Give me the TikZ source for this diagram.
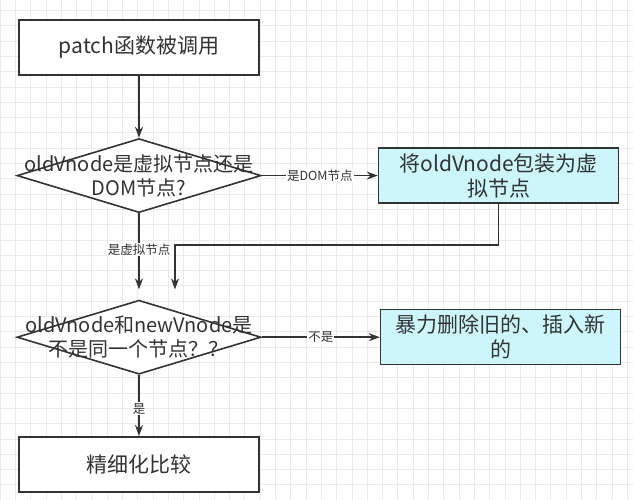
\documentclass[tikz,border=0pt]{standalone}
\usepackage{fontspec}
\setmainfont{Noto Sans CJK SC}
\usetikzlibrary{positioning,arrows.meta,shapes.geometric,calc}
\definecolor{ink}{HTML}{333333}
\definecolor{wrapfill}{RGB}{204,246,250}
\definecolor{gridgray}{RGB}{234,234,234}

\begin{document}
\begin{tikzpicture}[
  x=1pt, y=-1pt,
  font=\fontsize{20}{24}\selectfont,
  box/.style={draw=ink, line width=1.6pt, align=center, minimum width=240pt, minimum height=55pt, inner sep=2pt, text=ink, fill=white, font=\fontsize{21}{25}\selectfont},
  action/.style={box, fill=wrapfill},
  decision/.style={draw=ink, diamond, line width=1.6pt, minimum width=244pt, minimum height=74pt, inner sep=0pt, fill=white},
  dtext/.style={align=center, text=ink},
  flow/.style={-{Stealth[length=11pt,width=8pt]}, line width=1.6pt, draw=ink},
  tag/.style={fill=white, inner sep=1pt, font=\fontsize{12.5}{14}\selectfont, text=ink}
]
% background and grid
\useasboundingbox (0,0) rectangle (633,500);
\fill[white] (0,0) rectangle (633,500);
\foreach \gx in {0,15.3,...,633} \draw[gridgray, line width=0.8pt] (\gx,0) -- (\gx,500);
\foreach \gy in {10.5,25.8,...,500} \draw[gridgray, line width=0.8pt] (0,\gy) -- (633,\gy);

\node[box] (start) at (139,47.5) {patch函数被调用};
\node[decision, below=62pt of start] (isvnode) {};
\node[dtext] (isvnodetxt) at (isvnode) {oldVnode是虚拟节点还是\\DOM节点?};
\node[action, right=116pt of isvnode] (wrap) {将oldVnode包装为虚\\拟节点};
\node[decision, below=86pt of isvnode] (same) {};
\node[dtext] (sametxt) at (same) {oldVnode和newVnode是\\不是同一个节点？？};
\node[action, right=118pt of same] (replace) {暴力删除旧的、插入新\\的};
\node[box, below=61pt of same] (refine) {精细化比较};

\draw[flow] (start) -- (isvnode);
\draw[flow] (isvnode.east) -- node[tag] {是DOM节点} (wrap.west);
\draw[flow, shorten >=10pt] (isvnode.south) -- node[tag, pos=0.42] {是虚拟节点} (same.north);
\coordinate (merge) at (175,245);
\draw[flow, shorten >=10pt] (wrap.south) |- (merge) -- (merge |- same.north);
\draw[flow] (same.east) -- node[tag] {不是} (replace.west);
\draw[flow] (same.south) -- node[tag, pos=0.55] {是} (refine.north);
\end{tikzpicture}
\end{document}
